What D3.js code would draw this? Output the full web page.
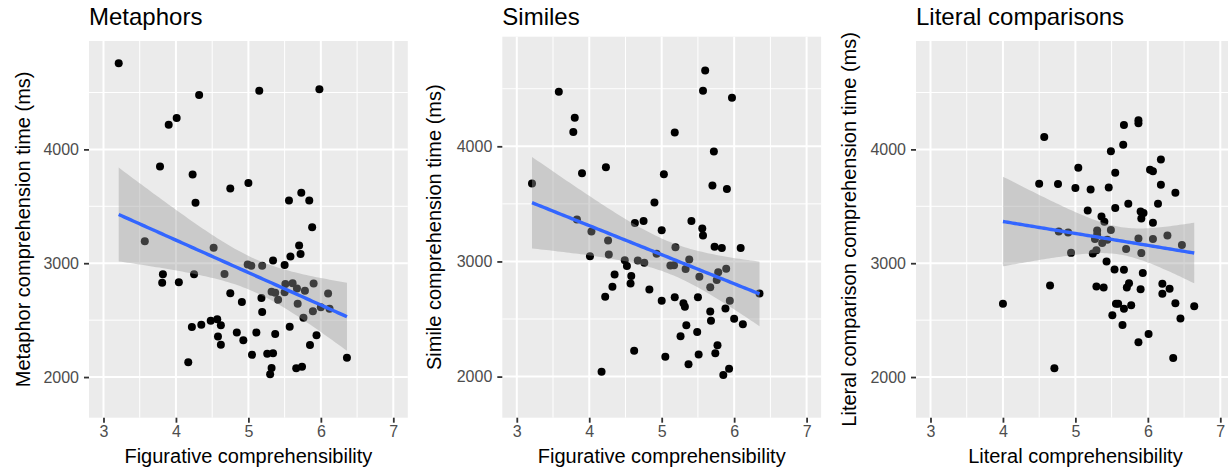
<!DOCTYPE html>
<html lang="en">
<head>
<meta charset="UTF-8">
<title>Comprehension time vs comprehensibility</title>
<script src="https://d3js.org/d3.v7.min.js"></script>
<style>
  body { margin: 0; background: #fff; overflow: hidden; }
  text { font-family: "Liberation Sans", Arial, Helvetica, sans-serif; }
</style>
</head>
<body>
<script>
// values
const metaphorX = [3.21, 4.32, 5.15, 5.98, 4.01, 3.90, 3.78, 4.23, 4.75, 5.00, 5.56, 5.73, 5.84, 4.27, 5.88,
  3.57, 4.52, 5.70, 5.58, 5.72, 5.34, 5.50, 4.99, 5.04, 5.19, 3.82, 3.81, 4.04, 4.25, 4.67,
  4.75, 4.91, 5.18, 5.19, 5.32, 5.37, 5.41, 5.50, 5.51, 5.61, 5.67, 5.78, 5.90, 6.10, 5.68,
  5.89, 6.00, 6.12, 5.76, 5.57, 5.94, 5.85, 6.36, 5.66, 5.74, 5.32, 5.30, 5.26, 5.34, 5.05,
  4.93, 5.11, 5.37, 4.84, 4.17, 4.22, 4.35, 4.48, 4.57, 4.62, 4.58, 4.62];
const metaphorY = [4756, 4478, 4516, 4528, 4276, 4217, 3850, 3780, 3657, 3704, 3551, 3619, 3551, 3531, 3317,
  3193, 3135, 3155, 3059, 3082, 3023, 2985, 2988, 2977, 2977, 2903, 2829, 2833, 2903, 2906,
  2736, 2660, 2695, 2572, 2750, 2740, 2680, 2745, 2818, 2824, 2777, 2759, 2821, 2733, 2645,
  2578, 2613, 2601, 2520, 2441, 2367, 2282, 2170, 2077, 2091, 2080, 2025, 2204, 2210, 2195,
  2323, 2391, 2379, 2391, 2129, 2439, 2460, 2495, 2508, 2455, 2356, 2283];

const simileX = [5.60, 3.58, 5.57, 5.97, 3.80, 3.78, 5.18, 5.72, 3.90, 4.23, 5.03, 3.21, 5.70, 5.90, 4.90,
  3.83, 4.63, 4.75, 5.41, 4.03, 5.00, 5.56, 5.57, 4.26, 4.01, 4.27, 4.49, 4.52, 4.67, 4.76,
  4.93, 5.19, 5.12, 5.17, 5.38, 5.33, 5.73, 5.83, 6.09, 5.52, 5.78, 5.89, 5.76, 5.67, 5.94,
  6.35, 4.35, 4.58, 4.57, 4.32, 4.22, 4.83, 5.00, 5.18, 5.30, 5.32, 5.50, 5.67, 5.88, 5.68,
  6.00, 6.12, 5.34, 5.49, 5.26, 5.77, 5.74, 5.51, 5.05, 4.62, 5.37, 5.93, 5.85, 4.17];
const simileY = [4659, 4474, 4483, 4422, 4249, 4124, 4121, 3954, 3766, 3818, 3757, 3676, 3659, 3630, 3512,
  3364, 3335, 3352, 3352, 3260, 3271, 3286, 3225, 3182, 3046, 3061, 3011, 2960, 3009, 2988,
  3067, 3124, 2965, 2968, 3017, 2934, 3127, 3116, 3116, 2867, 2907, 2936, 2838, 2777, 2659,
  2722, 2887, 2873, 2809, 2780, 2694, 2757, 2659, 2690, 2638, 2607, 2690, 2566, 2592, 2486,
  2503, 2454, 2445, 2387, 2350, 2272, 2202, 2191, 2173, 2225, 2108, 2068, 2013, 2042];

const literalX = [4.57, 5.67, 5.87, 5.87, 5.66, 5.49, 6.18, 5.04, 6.03, 6.07, 5.55, 4.50, 4.76, 5.00, 5.21,
  5.46, 6.18, 6.38, 5.73, 6.14, 5.55, 5.17, 5.90, 5.94, 5.91, 5.36, 5.40, 6.07, 4.77, 4.90,
  5.30, 5.30, 5.49, 5.27, 5.37, 5.44, 5.87, 6.07, 6.27, 6.47, 5.70, 5.91, 4.94, 5.24, 5.29,
  5.43, 5.54, 5.67, 5.93, 4.65, 5.29, 5.39, 5.74, 5.71, 6.20, 6.30, 5.90, 6.20, 6.38, 4.00,
  5.56, 5.59, 5.67, 5.77, 6.64, 5.51, 6.45, 5.65, 6.01, 5.87, 6.35, 4.71];
const literalY = [4109, 4215, 4255, 4229, 4041, 3983, 3912, 3839, 3821, 3807, 3795, 3698, 3696, 3660, 3648,
  3666, 3690, 3619, 3522, 3522, 3485, 3463, 3455, 3441, 3393, 3411, 3364, 3355, 3279, 3270,
  3288, 3250, 3291, 3212, 3177, 3206, 3217, 3212, 3244, 3159, 3124, 3089, 3091, 3085, 3115,
  3015, 2945, 2942, 2913, 2804, 2795, 2786, 2825, 2786, 2819, 2775, 2772, 2731, 2649, 2643,
  2643, 2643, 2599, 2631, 2623, 2543, 2514, 2458, 2379, 2306, 2168, 2077];

const titles = ["Metaphors", "Similes", "Literal comparisons"];
const xLabels = ["Figurative comprehensibility", "Figurative comprehensibility", "Literal comprehensibility"];
const yLabels = ["Metaphor comprehension time (ms)", "Simile comprehension time (ms)", "Literal comparison comprehension time (ms)"];
const xTicks = [3, 4, 5, 6, 7];
const xMinor = [3.5, 4.5, 5.5, 6.5];
const yTicks = [2000, 3000, 4000];
const yMinor = [2500, 3500, 4500];
const xDomain = [2.8, 7.2];
const yDomain = [1643, 4952];

const series = [
  {x: metaphorX, y: metaphorY},
  {x: simileX, y: simileY},
  {x: literalX, y: literalY}
];

// panel placement (pixels)
const layout = [
  {left: 89, top: 41, ylabX: 29.5},
  {left: 502.3, top: 36.7, ylabX: 441},
  {left: 916, top: 41, ylabX: 856}
];
const panelW = 318.8, panelBottom = 417.7;

const width = 1228, height = 469;
const svg = d3.select("body").append("svg")
  .attr("width", width)
  .attr("height", height);

// t quantile (0.975) via Cornish-Fisher expansion
function tq(df) {
  const z = 1.959964;
  return z + (z ** 3 + z) / (4 * df)
    + (5 * z ** 5 + 16 * z ** 3 + 3 * z) / (96 * df * df)
    + (3 * z ** 7 + 19 * z ** 5 + 17 * z ** 3 - 15 * z) / (384 * df ** 3);
}

function fit(xs, ys) {
  const n = xs.length;
  const mx = d3.mean(xs), my = d3.mean(ys);
  let sxx = 0, sxy = 0;
  xs.forEach((v, i) => { sxx += (v - mx) ** 2; sxy += (v - mx) * (ys[i] - my); });
  const b = sxy / sxx, a = my - b * mx;
  let sse = 0;
  xs.forEach((v, i) => { sse += (ys[i] - a - b * v) ** 2; });
  const s = Math.sqrt(sse / (n - 2));
  const t = tq(n - 2);
  const [x0, x1] = d3.extent(xs);
  return d3.range(80).map(k => {
    const xv = x0 + (x1 - x0) * k / 79;
    const yv = a + b * xv;
    const se = s * Math.sqrt(1 / n + (xv - mx) ** 2 / sxx);
    return {x: xv, y: yv, lo: yv - t * se, hi: yv + t * se};
  });
}

series.forEach((d, i) => {
  const L = layout[i];
  const x = d3.scaleLinear().domain(xDomain).range([L.left, L.left + panelW]);
  const y = d3.scaleLinear().domain(yDomain).range([panelBottom, L.top]);
  const g = svg.append("g");

  g.append("rect")
    .attr("x", L.left).attr("y", L.top)
    .attr("width", panelW).attr("height", panelBottom - L.top)
    .attr("fill", "#EBEBEB");

  // grid
  g.selectAll(".xmin").data(xMinor).join("line")
    .attr("x1", v => x(v)).attr("x2", v => x(v))
    .attr("y1", L.top).attr("y2", panelBottom)
    .attr("stroke", "#fff").attr("stroke-width", 1);
  g.selectAll(".ymin").data(yMinor).join("line")
    .attr("x1", L.left).attr("x2", L.left + panelW)
    .attr("y1", v => y(v)).attr("y2", v => y(v))
    .attr("stroke", "#fff").attr("stroke-width", 1);
  g.selectAll(".xmaj").data(xTicks).join("line")
    .attr("x1", v => x(v)).attr("x2", v => x(v))
    .attr("y1", L.top).attr("y2", panelBottom)
    .attr("stroke", "#fff").attr("stroke-width", 2);
  g.selectAll(".ymaj").data(yTicks).join("line")
    .attr("x1", L.left).attr("x2", L.left + panelW)
    .attr("y1", v => y(v)).attr("y2", v => y(v))
    .attr("stroke", "#fff").attr("stroke-width", 2);

  // points
  g.selectAll("circle").data(d.x.map((v, k) => [v, d.y[k]])).join("circle")
    .attr("cx", p => x(p[0])).attr("cy", p => y(p[1]))
    .attr("r", 4).attr("fill", "#000");

  // smooth
  const pts = fit(d.x, d.y);
  g.append("path")
    .attr("d", d3.area().x(p => x(p.x)).y0(p => y(p.lo)).y1(p => y(p.hi))(pts))
    .attr("fill", "#999999").attr("fill-opacity", 0.4);
  g.append("path")
    .attr("d", d3.line().x(p => x(p.x)).y(p => y(p.y))(pts))
    .attr("fill", "none").attr("stroke", "#3366FF").attr("stroke-width", 3.4);

  // axes
  const ax = g.append("g").attr("transform", `translate(0,${panelBottom})`)
    .call(d3.axisBottom(x).tickValues(xTicks).tickSize(5).tickPadding(3).tickFormat(d3.format("d")));
  const ay = g.append("g").attr("transform", `translate(${L.left},0)`)
    .call(d3.axisLeft(y).tickValues(yTicks).tickSize(5).tickPadding(5).tickFormat(d3.format("d")));
  [ax, ay].forEach(a => {
    a.select(".domain").remove();
    a.selectAll("line").attr("stroke", "#333333").attr("stroke-width", 1.8);
    a.selectAll("text").attr("fill", "#4D4D4D").attr("font-size", 16)
      .style("font-family", '"Liberation Sans", Arial, Helvetica, sans-serif');
  });

  g.append("text")
    .attr("x", L.left).attr("y", 25)
    .attr("font-size", 24).attr("fill", "#000")
    .text(titles[i]);
  g.append("text")
    .attr("x", L.left + panelW / 2).attr("y", 463)
    .attr("text-anchor", "middle")
    .attr("font-size", 20).attr("fill", "#000")
    .text(xLabels[i]);
  g.append("text")
    .attr("transform", `translate(${L.ylabX},${(L.top + panelBottom) / 2}) rotate(-90)`)
    .attr("text-anchor", "middle")
    .attr("font-size", 20).attr("fill", "#000")
    .text(yLabels[i]);
});
</script>
</body>
</html>
